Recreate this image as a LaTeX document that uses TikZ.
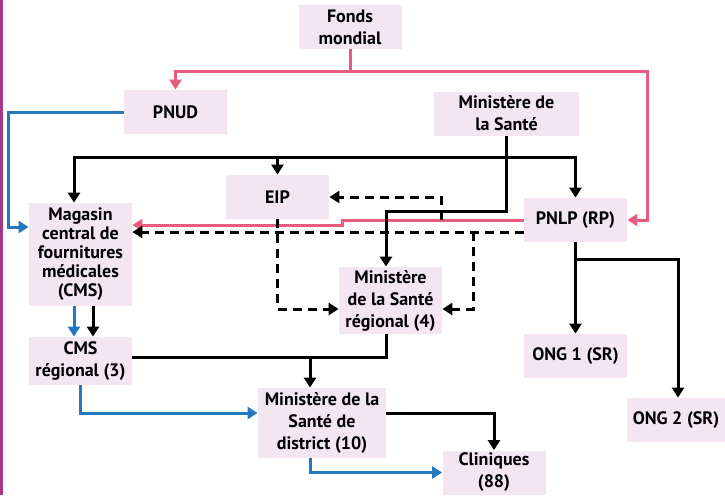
\documentclass[tikz,border=0pt]{standalone}
\usepackage{fontspec}
\setmainfont{PT Sans}
\usetikzlibrary{arrows.meta}
\definecolor{boxfill}{HTML}{F3E6F1}
\definecolor{pinkline}{HTML}{E95C7E}
\definecolor{blueline}{HTML}{2478BF}
\definecolor{sidebar}{HTML}{A8368A}
\begin{document}
\begin{tikzpicture}[x=0.5pt,y=-0.5pt,
  box/.style={fill=boxfill,align=center,inner sep=0pt,
    minimum width=51.5pt,minimum height=22pt,
    font=\bfseries\fontsize{9}{11}\selectfont},
  link/.style={line width=1.5pt,-{Triangle[length=5pt,width=6pt]}},
  pinkl/.style={link,pinkline},
  bluel/.style={link,blueline},
  dashl/.style={link,dash pattern=on 4.5pt off 3pt}]
\useasboundingbox (0,0) rectangle (725,495);
\fill[sidebar] (0,0) rectangle (3,495);
% boxes
\node[box] (fonds) at (350,27) {Fonds\\mondial};
\node[box] (pnud) at (175.5,112) {PNUD};
\node[box,minimum width=72.5pt] (ms) at (506.5,113.5) {Ministère de\\la Santé};
\node[box] (eip) at (277.5,197) {EIP};
\node[box] (pnlp) at (575.5,220) {PNLP (RP)};
\node[box,minimum height=51.5pt,font=\bfseries\fontsize{9}{9.5}\selectfont] (cms) at (80.5,254.5)
  {Magasin\\central de\\fournitures\\médicales\\(CMS)};
\node[box,minimum height=33.5pt] (msr) at (390.5,300.5) {Ministère\\de la Santé\\régional (4)};
\node[box,minimum height=24pt] (cmsr) at (80.5,361) {CMS\\régional (3)};
\node[box,minimum width=64pt,minimum height=35pt] (msd) at (322,423) {Ministère de la\\Santé de\\district (10)};
\node[box] (clin) at (494,472.5) {Cliniques\\(88)};
\node[box] (ong1) at (575.5,356) {ONG 1 (SR)};
\node[box,minimum width=49pt] (ong2) at (676,420) {ONG 2 (SR)};
\coordinate (j1) at (310,357);
\coordinate (d1) at (473,232);
\coordinate (d2) at (441,220);
% financement
\draw[pinkl] (fonds.south) -- ++(0,22) -| (pnud.north);
\draw[pinkl] (fonds.south) -- ++(0,22) -| ([xshift=10pt]pnlp.east) -- (pnlp.east);
\draw[pinkl] (pnlp.west) -- ++(-181,0) |- (cms.east |- 0,225);
% pointilles
\draw[dashl] (pnlp.west |- 0,232) -- (cms.east |- 0,232);
\draw[dashl] (d1) |- (msr.east |- 0,309);
\draw[dashl] (eip.south) |- (msr.west |- 0,309);
\draw[dashl] (d2) |- (eip.east);
% hierarchie
\draw[link,{Triangle[length=5pt,width=6pt]}-{Triangle[length=5pt,width=6pt]}]
  (cms.north -| 74,0) |- (pnlp.north |- 0,157) -- (pnlp.north);
\draw[link] (eip.north |- 0,157) -- (eip.north);
\draw[link] (ms.south) -- (506.5,211) -| (msr.north -| 386,0);
\draw[link] (cms.south -| 93,0) -- (cmsr.north -| 93,0);
\draw[line width=1.5pt] (msr.south -| 386,0) |- (cmsr.east |- 0,357);
\draw[link] (j1) -- (msd.north -| 310,0);
\draw[link] (msd.east |- 0,413) -| (clin.north);
\draw[link] (pnlp.south) -- (ong1.north);
\draw[link] (pnlp.south |- 0,259) -| (ong2.north -| 678,0);
% produits
\draw[bluel] (pnud.west) -- ++(-115,0) |- (cms.west |- 0,227);
\draw[bluel] (cms.south -| 74,0) -- (cmsr.north -| 74,0);
\draw[bluel] (cmsr.south) |- (msd.west |- 0,413);
\draw[bluel] (msd.south -| 310,0) |- (clin.west);
\end{tikzpicture}
\end{document}
